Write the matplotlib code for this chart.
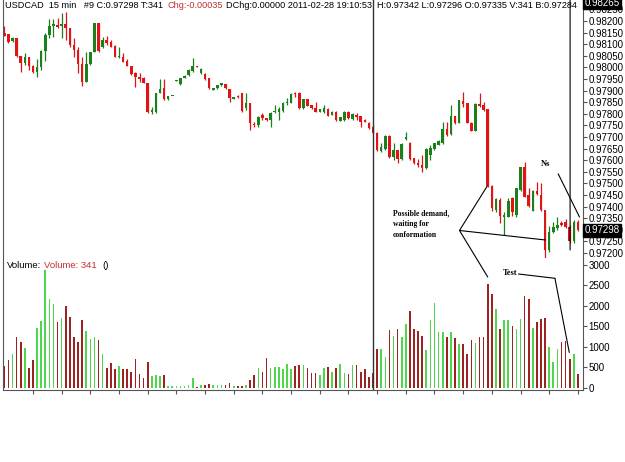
import numpy as np
import matplotlib
matplotlib.use('Agg')
import matplotlib.pyplot as plt
from matplotlib.transforms import blended_transform_factory

plt.rcParams['font.family'] = ['Liberation Sans', 'DejaVu Sans']

# USDCAD 15 min candles
opens = [0.98150, 0.98144, 0.98115, 0.98125, 0.98049, 0.98018, 0.98046, 0.98006, 0.97979, 0.98000,
         0.98072, 0.98140, 0.98178, 0.98183, 0.98178, 0.98187, 0.98168, 0.98097, 0.98075, 0.98015,
         0.97939, 0.98015, 0.98068, 0.98190, 0.98087, 0.98118, 0.98108, 0.98094, 0.98046, 0.98046,
         0.98029, 0.98008, 0.97974, 0.97960, 0.97953, 0.97934, 0.97809, 0.97809, 0.97891, 0.97911,
         0.97862, 0.97877, 0.97942, 0.97928, 0.97956, 0.97967, 0.97986, 0.98004, 0.97974, 0.97970,
         0.97956, 0.97903, 0.97910, 0.97924, 0.97927, 0.97906, 0.97865, 0.97877, 0.97888, 0.97824,
         0.97848, 0.97754, 0.97752, 0.97795, 0.97780, 0.97773, 0.97809, 0.97809, 0.97814, 0.97845,
         0.97848, 0.97888, 0.97891, 0.97824, 0.97862, 0.97838, 0.97824, 0.97809, 0.97809, 0.97821,
         0.97795, 0.97809, 0.97770, 0.97773, 0.97809, 0.97776, 0.97795, 0.97790, 0.97773, 0.97762,
         0.97745, 0.97719, 0.97641, 0.97647, 0.97704, 0.97612, 0.97644, 0.97604, 0.97690, 0.97676,
         0.97608, 0.97586, 0.97579, 0.97565, 0.97622, 0.97647, 0.97666, 0.97673, 0.97733, 0.97713,
         0.97790, 0.97762, 0.97857, 0.97845, 0.97762, 0.97727, 0.97842, 0.97838, 0.97819, 0.97489,
         0.97385, 0.97429, 0.97357, 0.97357, 0.97436, 0.97364, 0.97472, 0.97569, 0.97450, 0.97381,
         0.97469, 0.97450, 0.97385, 0.97213, 0.97292, 0.97306, 0.97330, 0.97335, 0.97314, 0.97253,
         0.97335]
highs = [0.98178, 0.98144, 0.98130, 0.98125, 0.98049, 0.98061, 0.98046, 0.98010, 0.98035, 0.98075,
         0.98147, 0.98207, 0.98207, 0.98211, 0.98236, 0.98240, 0.98168, 0.98125, 0.98087, 0.98046,
         0.98068, 0.98068, 0.98190, 0.98190, 0.98132, 0.98135, 0.98118, 0.98097, 0.98087, 0.98064,
         0.98035, 0.98008, 0.97982, 0.97974, 0.97960, 0.97934, 0.97831, 0.97891, 0.97949, 0.97949,
         0.97877, 0.97878, 0.97946, 0.97955, 0.97966, 0.97992, 0.98042, 0.98005, 0.97999, 0.97974,
         0.97956, 0.97912, 0.97926, 0.97934, 0.97929, 0.97906, 0.97873, 0.97879, 0.97888, 0.97888,
         0.97848, 0.97766, 0.97790, 0.97802, 0.97782, 0.97809, 0.97838, 0.97831, 0.97852, 0.97867,
         0.97888, 0.97893, 0.97895, 0.97864, 0.97864, 0.97840, 0.97852, 0.97821, 0.97838, 0.97823,
         0.97811, 0.97812, 0.97787, 0.97812, 0.97812, 0.97802, 0.97802, 0.97790, 0.97776, 0.97764,
         0.97752, 0.97723, 0.97673, 0.97709, 0.97709, 0.97673, 0.97644, 0.97673, 0.97723, 0.97680,
         0.97610, 0.97604, 0.97622, 0.97651, 0.97666, 0.97676, 0.97687, 0.97766, 0.97766, 0.97838,
         0.97792, 0.97860, 0.97895, 0.97847, 0.97764, 0.97845, 0.97888, 0.97852, 0.97821, 0.97493,
         0.97436, 0.97436, 0.97378, 0.97436, 0.97443, 0.97479, 0.97572, 0.97594, 0.97479, 0.97472,
         0.97508, 0.97503, 0.97385, 0.97316, 0.97335, 0.97354, 0.97340, 0.97345, 0.97321, 0.97342,
         0.97342]
lows = [0.98135, 0.98104, 0.98111, 0.98046, 0.97982, 0.98010, 0.97989, 0.97974, 0.97957, 0.97989,
        0.98029, 0.98125, 0.98132, 0.98168, 0.98125, 0.98118, 0.98089, 0.98046, 0.97974, 0.97920,
        0.97939, 0.98010, 0.98068, 0.98068, 0.98082, 0.98097, 0.98087, 0.98046, 0.98039, 0.98025,
        0.98006, 0.97967, 0.97917, 0.97939, 0.97931, 0.97805, 0.97798, 0.97802, 0.97888, 0.97860,
        0.97860, 0.97876, 0.97941, 0.97926, 0.97955, 0.97965, 0.97982, 0.98001, 0.97972, 0.97946,
        0.97906, 0.97901, 0.97908, 0.97920, 0.97908, 0.97852, 0.97863, 0.97869, 0.97809, 0.97816,
        0.97730, 0.97742, 0.97742, 0.97773, 0.97771, 0.97742, 0.97802, 0.97773, 0.97809, 0.97838,
        0.97845, 0.97871, 0.97822, 0.97822, 0.97832, 0.97822, 0.97807, 0.97807, 0.97802, 0.97790,
        0.97793, 0.97771, 0.97768, 0.97771, 0.97778, 0.97774, 0.97773, 0.97742, 0.97764, 0.97735,
        0.97713, 0.97641, 0.97637, 0.97644, 0.97608, 0.97601, 0.97586, 0.97601, 0.97687, 0.97601,
        0.97584, 0.97569, 0.97551, 0.97561, 0.97601, 0.97644, 0.97664, 0.97670, 0.97704, 0.97709,
        0.97757, 0.97759, 0.97831, 0.97760, 0.97725, 0.97725, 0.97831, 0.97813, 0.97483, 0.97382,
        0.97378, 0.97328, 0.97278, 0.97354, 0.97360, 0.97357, 0.97469, 0.97443, 0.97400, 0.97379,
        0.97450, 0.97382, 0.97180, 0.97206, 0.97285, 0.97299, 0.97318, 0.97306, 0.97245, 0.97242,
        0.97296]
closes = [0.98137, 0.98111, 0.98125, 0.98049, 0.98020, 0.98046, 0.98006, 0.97982, 0.98003, 0.98072,
          0.98141, 0.98178, 0.98187, 0.98176, 0.98187, 0.98168, 0.98097, 0.98075, 0.98015, 0.97939,
          0.98015, 0.98068, 0.98190, 0.98072, 0.98118, 0.98104, 0.98089, 0.98046, 0.98049, 0.98025,
          0.98008, 0.97972, 0.97960, 0.97950, 0.97934, 0.97809, 0.97816, 0.97891, 0.97908, 0.97862,
          0.97877, 0.97878, 0.97945, 0.97953, 0.97964, 0.97989, 0.98006, 0.98002, 0.97993, 0.97949,
          0.97910, 0.97910, 0.97924, 0.97931, 0.97910, 0.97867, 0.97871, 0.97871, 0.97814, 0.97845,
          0.97762, 0.97752, 0.97788, 0.97780, 0.97773, 0.97802, 0.97814, 0.97819, 0.97848, 0.97852,
          0.97885, 0.97886, 0.97824, 0.97862, 0.97834, 0.97824, 0.97809, 0.97819, 0.97824, 0.97792,
          0.97809, 0.97773, 0.97785, 0.97809, 0.97780, 0.97799, 0.97788, 0.97766, 0.97766, 0.97737,
          0.97719, 0.97644, 0.97658, 0.97704, 0.97612, 0.97644, 0.97604, 0.97670, 0.97699, 0.97604,
          0.97586, 0.97579, 0.97565, 0.97647, 0.97651, 0.97673, 0.97684, 0.97733, 0.97709, 0.97790,
          0.97759, 0.97860, 0.97842, 0.97762, 0.97727, 0.97842, 0.97834, 0.97816, 0.97489, 0.97393,
          0.97431, 0.97360, 0.97364, 0.97426, 0.97378, 0.97479, 0.97569, 0.97443, 0.97403, 0.97469,
          0.97453, 0.97385, 0.97213, 0.97292, 0.97314, 0.97321, 0.97322, 0.97314, 0.97253, 0.97335,
          0.97298]
volumes = [528, 675, 821, 1244, 1106, 960, 488, 675, 1463, 1626,
           2870, 2163, 2049, 1593, 1707, 1992, 1715, 1244, 1114, 1642,
           1382, 1187, 1244, 1163, 829, 488, 610, 447, 528, 455,
           455, 374, 699, 333, 228, 634, 285, 301, 285, 317,
           40, 40, 50, 50, 50, 60, 243, 24, 65, 65,
           97, 57, 57, 73, 73, 105, 49, 49, 49, 65,
           186, 308, 486, 389, 729, 486, 502, 494, 454, 575,
           454, 527, 543, 543, 486, 365, 365, 316, 486, 494,
           381, 486, 575, 365, 340, 559, 543, 381, 446, 259,
           348, 940, 932, 753, 1401, 1272, 1442, 1239, 1555, 1871,
           1426, 1377, 1272, 915, 1644, 2057, 1353, 1353, 1231, 1369,
           1207, 1077, 1061, 834, 1158, 1102, 1239, 1231, 2535, 2292,
           1920, 1426, 1644, 1644, 1507, 1426, 1669, 2228, 2155, 1450,
           1604, 1669, 1709, 996, 632, 956, 1118, 1134, 697, 810,
           341]

price_ticks = np.arange(0.97200, 0.982501, 0.0005)
vol_ticks = [0, 500, 1000, 1500, 2000, 2500, 3000]

header = 'USDCAD  15 min   #9 C:0.97298 T:341'
header_chg = 'Chg:-0.00035'
header_mid = 'DChg:0.00000 2011-02-28 19:10:53'
header_end = 'H:0.97342 L:0.97296 O:0.97335 V:341 B:0.97284'

o = np.array(opens)
h = np.array(highs)
l = np.array(lows)
c = np.array(closes)
v = np.array(volumes)
xs = np.arange(len(o))
up = c >= o

RED = '#e01414'
GREEN = '#1b7f1b'
VRED = '#9e2222'
VGREEN = '#4fd64f'
AXC = '#555555'

W, H = 625, 462
fig = plt.figure(figsize=(W / 100, H / 100), dpi=100)
ax = fig.add_axes([3 / W, 1 - 258 / H, 580 / W, 258 / H])
axv = fig.add_axes([3 / W, 1 - 390 / H, 580 / W, 132 / H], sharex=ax)
axv.patch.set_visible(False)

# candles
ccol = np.where(up, GREEN, RED)
ax.vlines(xs, l, h, colors=ccol, lw=0.9)
body = np.maximum(np.abs(c - o), 0.000025)
ax.bar(xs, body, bottom=np.minimum(o, c), width=0.62, color=ccol, lw=0)

# volume
axv.bar(xs, v, width=0.4, color=np.where(up, VGREEN, VRED), lw=0)

ax.set_xlim(-0.32, 141.25)
ax.set_ylim(0.971784, 0.982905)
axv.set_ylim(-56, 3163)

for a in (ax, axv):
    a.yaxis.tick_right()
    a.spines['top'].set_visible(False)
    for s in ('left', 'right', 'bottom'):
        a.spines[s].set_color(AXC)
    a.tick_params(axis='y', direction='out', length=3, pad=1, labelsize=7,
                  color=AXC, labelcolor='black')
ax.spines['bottom'].set_visible(False)
ax.tick_params(axis='x', bottom=False, labelbottom=False)
axv.tick_params(axis='x', direction='out', length=3, color=AXC, labelbottom=False)
axv.set_xticks(np.arange(7, len(o), 7))

ax.set_yticks(price_ticks)
ax.set_yticklabels(['%.5f' % t for t in price_ticks])
axv.set_yticks(vol_ticks)
axv.set_yticklabels([str(t) for t in vol_ticks])

ax.axvline(90, color='#333333', lw=1)
axv.axvline(90, color='#333333', lw=1)

# price boxes on the right axis
tr = blended_transform_factory(ax.transAxes, ax.transData)
ax.text(1.003, closes[-1], '%.5f' % closes[-1], transform=tr, color='white', fontsize=7,
        va='center', ha='left', bbox=dict(facecolor='black', edgecolor='black', pad=1))
ax.text(1.003, 0.98278, '0.98265', transform=tr, color='white', fontsize=7,
        va='center', ha='left', bbox=dict(facecolor='black', edgecolor='black', pad=1))

# header and volume legend
fs = 6.55
fig.text(5 / W, 1 - 6 / H, header, fontsize=fs, va='center')
fig.text(168 / W, 1 - 6 / H, header_chg, fontsize=fs, va='center', color='#c03030')
fig.text(226 / W, 1 - 6 / H, header_mid, fontsize=fs, va='center')
fig.text(377 / W, 1 - 6 / H, header_end, fontsize=fs, va='center')
fig.text(7 / W, 1 - 266 / H, 'Volume:', fontsize=6.8, va='center')
fig.text(44 / W, 1 - 266 / H, 'Volume: 341', fontsize=6.8, va='center', color='#c03030')
fig.text(102 / W, 1 - 266 / H, '()', fontsize=6.8, va='center')

# hand-drawn notes
serif = dict(family=['Liberation Serif', 'DejaVu Serif'], weight='bold', color='black')
line = dict(arrowstyle='-', color='black', lw=0.8, shrinkA=0, shrinkB=0)
ax.text(94.8, 0.97325, 'Possible demand,\nwaiting for\nconformation', fontsize=5.5,
        ha='left', va='center', linespacing=1.45, **serif)
hub = (111.1, 0.97297)
ax.annotate('', xy=(117.9, 0.97489), xytext=hub, arrowprops=line, annotation_clip=False)
ax.annotate('', xy=(132.1, 0.97256), xytext=hub, arrowprops=line, annotation_clip=False)
axv.annotate('', xy=(118.0, 2700), xytext=hub, textcoords=ax.transData,
             arrowprops=line, annotation_clip=False)
ax.text(132.0, 0.97584, 'Ns', fontsize=6, ha='center', va='center', **serif)
ax.annotate('', xy=(140.4, 0.97355), xytext=(135.2, 0.97541), arrowprops=line,
            annotation_clip=False)
axv.text(123.4, 2790, 'Test', fontsize=6, ha='center', va='center', **serif)
axv.annotate('', xy=(134.4, 2668), xytext=(125.5, 2773), arrowprops=line,
             annotation_clip=False)
axv.annotate('', xy=(137.9, 860), xytext=(134.4, 2668), arrowprops=line,
             annotation_clip=False)
axv.annotate('', xy=(138.1, 0.97213), xycoords=ax.transData, xytext=(134.4, 2668),
             arrowprops=line, annotation_clip=False)

fig.savefig('out.png', dpi=100)
